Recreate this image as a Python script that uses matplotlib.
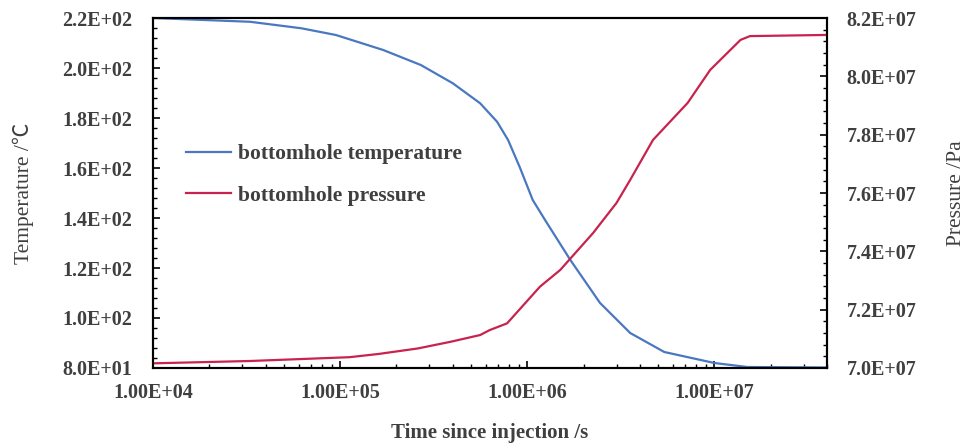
import numpy as np
import matplotlib.pyplot as plt
from matplotlib.ticker import FixedLocator, MultipleLocator, FuncFormatter, LogLocator

# time since injection (s) and the two bottomhole series
t_temp = [1.0e4, 3.3e4, 6.2e4, 9.5e4, 1.7e5, 2.7e5, 4.0e5, 5.6e5, 6.9e5, 7.9e5,
          9.1e5, 1.07e6, 1.25e6, 1.7e6, 2.45e6, 3.55e6, 5.4e6, 1.0e7, 1.5e7, 4.0e7]
temperature = [220.0, 218.5, 215.9, 213.2, 207.2, 201.2, 193.9, 185.9, 178.5, 171.2,
               160.5, 147.2, 139.0, 123.2, 106.0, 94.0, 86.4, 82.0, 80.4, 80.2]

t_pres = [1.0e4, 3.3e4, 1.12e5, 1.6e5, 2.6e5, 3.9e5, 5.6e5, 6.3e5, 7.8e5, 1.17e6,
          1.5e6, 2.25e6, 3.0e6, 3.55e6, 4.7e6, 7.2e6, 9.5e6, 1.38e7, 1.55e7, 4.0e7]
pressure = [7.016e7, 7.024e7, 7.037e7, 7.048e7, 7.067e7, 7.090e7, 7.113e7, 7.130e7, 7.153e7, 7.279e7,
            7.336e7, 7.463e7, 7.566e7, 7.645e7, 7.782e7, 7.909e7, 8.022e7, 8.125e7, 8.138e7, 8.142e7]

x_ticks = [1e4, 1e5, 1e6, 1e7]
temp_ticks = [80, 100, 120, 140, 160, 180, 200, 220]
pres_ticks = [7.0e7, 7.2e7, 7.4e7, 7.6e7, 7.8e7, 8.0e7, 8.2e7]

plt.rcParams['font.family'] = ['Liberation Serif', 'Noto Sans CJK SC']
txt = '#3f3f3f'
blue = '#4a78c0'
red = '#c8234e'

fig = plt.figure(figsize=(9.71, 4.46), dpi=100)
ax = fig.add_axes([0.1576, 0.1749, 0.6941, 0.7847])
ax2 = ax.twinx()

l1, = ax.plot(t_temp, temperature, color=blue, lw=1.6, label='bottomhole temperature')
l2, = ax2.plot(t_pres, pressure, color=red, lw=1.6, label='bottomhole pressure')

ax.set_xscale('log')
ax.set_xlim(1e4, 4e7)
ax.set_ylim(80, 220)
ax2.set_ylim(7.0e7, 8.2e7)

ax.xaxis.set_major_locator(FixedLocator(x_ticks))
ax.xaxis.set_minor_locator(LogLocator(base=10, subs=np.arange(2, 10), numticks=20))
ax.xaxis.set_minor_formatter(FuncFormatter(lambda v, p: ''))
ax.xaxis.set_major_formatter(FuncFormatter(lambda v, p: '%.2E' % v))
ax.yaxis.set_major_locator(FixedLocator(temp_ticks))
ax.yaxis.set_minor_locator(MultipleLocator(4))
ax.yaxis.set_major_formatter(FuncFormatter(lambda v, p: '%.1E' % v))
ax2.yaxis.set_major_locator(FixedLocator(pres_ticks))
ax2.yaxis.set_minor_locator(MultipleLocator(4e5))
ax2.yaxis.set_major_formatter(FuncFormatter(lambda v, p: '%.1E' % v))
ax2.yaxis.get_offset_text().set_visible(False)

for a in (ax, ax2):
    a.tick_params(which='both', direction='in', colors='black', labelcolor=txt,
                  labelsize=14.5)
    a.tick_params(which='major', length=5, width=1.2)
    a.tick_params(which='minor', length=3, width=1.0)
    for lab in a.get_xticklabels() + a.get_yticklabels():
        lab.set_fontweight('bold')
    for s in a.spines.values():
        s.set_linewidth(1.5)
ax.tick_params(axis='y', pad=15)
ax2.tick_params(axis='y', pad=14)
ax.tick_params(axis='x', pad=11)

ax.set_xlabel('Time since injection /s', fontsize=15, fontweight='bold', color=txt, labelpad=14)
ax.set_ylabel('Temperature /℃', fontsize=15.5, color=txt, labelpad=20)
ax2.set_ylabel('Pressure /Pa', fontsize=15.5, color=txt, labelpad=22)

ax.legend(handles=[l1, l2], loc='upper left', bbox_to_anchor=(0.02, 0.695),
          frameon=False, handlelength=2.1, handletextpad=0.3, labelspacing=1.0,
          prop={'size': 15.5, 'weight': 'bold'}, labelcolor=txt)

fig.savefig('out.png', dpi=100)
